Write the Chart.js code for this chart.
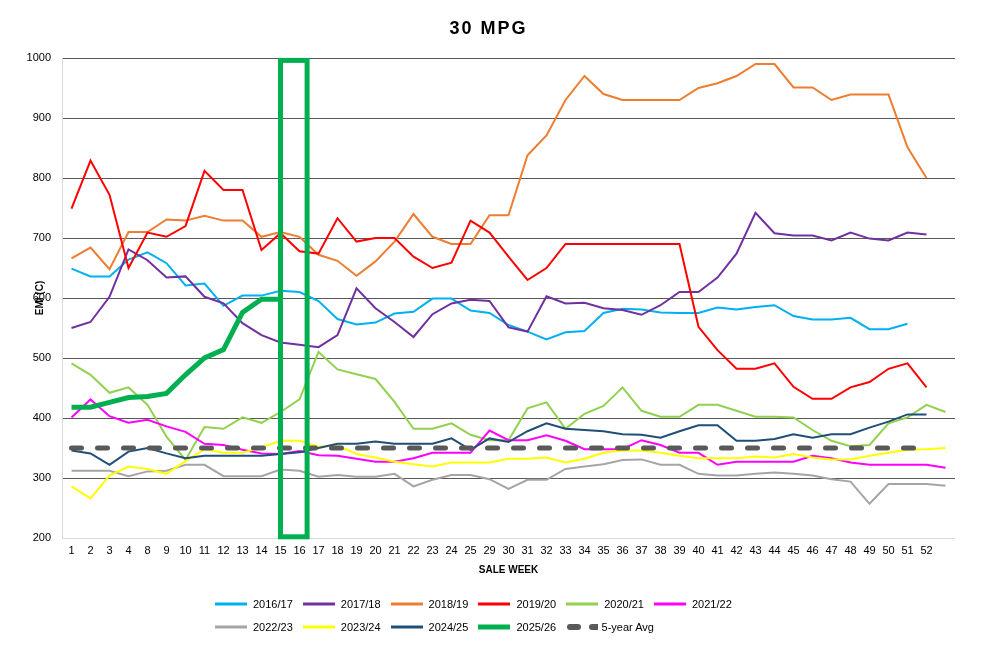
<!DOCTYPE html>
<html>
<head>
<meta charset="utf-8">
<title>30 MPG</title>
<script src="https://cdn.jsdelivr.net/npm/chart.js@4/dist/chart.umd.min.js"></script>
<style>
  body { margin: 0; background: #fff; font-family: "Liberation Sans", Arial, sans-serif; }
  #wrap { position: relative; width: 987px; height: 648px; }
  #title { position: absolute; left: 0; top: 18px; width: 977px; text-align: center;
           font-size: 18px; font-weight: bold; letter-spacing: 2px; color: #000; }
  #legend { position: absolute; left: 215px; top: 592px; display: grid;
            grid-template-columns: repeat(6, 87.8px); font-size: 11px; color: #000; }
  .item { display: flex; align-items: center; height: 23px; white-space: nowrap; }
  .item svg { margin-right: 4px; }
</style>
</head>
<body>
<div id="wrap">
  <canvas id="chart" width="987" height="648"></canvas>
  <div id="title">30 MPG</div>
  <div id="legend"></div>
</div>
<script>
// sale weeks (last slot is an unlabelled extra week)
var weeks = ['1','2','3','4','8','9','10','11','12','13','14','15','16','17','18','19','20','21','22','23','24','25',
  '29','30','31','32','33','34','35','36','37','38','39','40','41','42','43','44','45','46','47','48','49','50','51','52',''];

var s1617 = [649,636,636,664,676,658,621,624,587,604,604,612,610,595,565,556,559,574,577,599,599,579,
  575,555,544,531,543,545,575,582,581,576,575,575,584,581,585,588,570,564,564,567,548,548,557,null,null];
var s1718 = [550,560,602,681,663,634,636,602,591,558,538,526,522,518,538,616,583,560,535,573,591,597,
  595,551,544,603,591,592,583,580,572,588,610,610,634,674,742,708,704,704,696,709,699,696,709,706,null];
var s1819 = [666,684,648,710,710,731,729,737,729,729,702,710,702,672,662,637,661,694,740,702,690,690,
  738,738,838,871,930,970,940,930,930,930,930,950,958,970,990,990,951,951,930,939,939,939,851,800,null];
var s1920 = [749,829,772,650,709,702,720,812,780,780,680,708,678,674,733,694,700,700,669,650,659,729,
  709,669,630,650,690,690,690,690,690,690,690,552,513,482,482,491,452,432,432,451,460,482,491,451,null];
var s2021 = [491,472,442,451,422,369,330,385,382,401,392,410,431,510,481,473,465,427,382,382,391,372,
  363,363,416,426,382,407,420,451,412,402,402,422,422,412,402,402,401,380,362,353,355,391,401,422,410];
var s2122 = [401,431,403,392,397,386,377,357,355,347,341,340,345,338,337,332,327,327,333,342,342,342,
  379,363,363,371,362,348,348,348,363,355,342,342,322,327,327,327,327,337,333,326,322,322,322,322,317];
var s2223 = [312,312,312,303,311,312,322,322,303,303,303,314,312,302,305,302,302,307,286,297,305,305,
  298,282,297,297,315,319,323,330,331,322,322,307,304,304,307,309,307,304,298,294,257,290,290,290,287];
var s2324 = [286,266,304,319,315,307,328,348,342,342,351,362,362,352,354,340,334,327,323,319,326,326,
  326,332,332,334,326,332,342,346,346,342,337,333,333,333,336,334,340,334,331,331,337,342,347,348,350];
var s2425 = [346,341,322,344,350,341,333,337,337,337,337,340,343,350,357,357,361,357,357,357,366,347,
  366,360,378,391,382,380,378,373,372,367,378,388,388,362,362,365,373,367,373,373,384,394,406,406,null];
var s2526 = [418,418,426,434,436,441,472,500,514,576,598,598];
var avg5 = [350,350,350,350,350,350,350,350,350,350,350,350,350,350,350,350,350,350,350,350,350,350,
  350,350,350,350,350,350,350,350,350,350,350,350,350,350,350,350,350,350,350,350,350,350,350,350,null];

var seriesNames = ['2016/17','2017/18','2018/19','2019/20','2020/21','2021/22','2022/23','2023/24','2024/25','2025/26','5-year Avg'];
var seriesData = [s1617, s1718, s1819, s1920, s2021, s2122, s2223, s2324, s2425, s2526, avg5];
var seriesColors = ['#00B0F0','#7030A0','#ED7D31','#FF0000','#92D050','#FF00FF','#A5A5A5','#FFFF00','#1F4E79','#00B050','#595959'];

Chart.defaults.font.family = '"Liberation Sans", Arial, sans-serif';

var datasets = [];
for (var i = 0; i < seriesNames.length; i++) {
  var isAvg = seriesNames[i] == '5-year Avg';
  var isNow = seriesNames[i] == '2025/26';
  datasets.push({
    label: seriesNames[i],
    data: seriesData[i],
    borderColor: seriesColors[i],
    backgroundColor: seriesColors[i],
    borderWidth: (isAvg || isNow) ? 5 : 2,
    borderDash: isAvg ? [10, 16] : [],
    borderCapStyle: isAvg ? 'round' : 'butt',
    pointRadius: 0,
    tension: 0,
    fill: false,
    order: seriesNames.length - i   // later series on top, like Excel
  });
}

// green box around weeks 15/16
var highlightBox = {
  id: 'highlightBox',
  afterDatasetsDraw: function(chart) {
    var ctx = chart.ctx, x = chart.scales.x, y = chart.scales.y;
    var left = x.getPixelForValue(11), right = x.getPixelForValue(12.4);
    var top = y.getPixelForValue(996), bottom = y.getPixelForValue(202);
    ctx.save();
    ctx.strokeStyle = '#00B050';
    ctx.lineWidth = 5;
    ctx.strokeRect(left, top, right - left, bottom - top);
    ctx.restore();
  }
};

var chart = new Chart(document.getElementById('chart'), {
  type: 'line',
  data: { labels: weeks, datasets: datasets },
  options: {
    responsive: false,
    animation: false,
    layout: { padding: { left: 20, right: 32, top: 58, bottom: 70 } },
    plugins: {
      legend: { display: false },
      tooltip: { enabled: false },
      title: { display: false }
    },
    scales: {
      x: {
        offset: true,
        grid: { display: false, drawTicks: false },
        border: { display: false },
        ticks: { autoSkip: false, maxRotation: 0, padding: 6, color: '#000', font: { size: 11 } },
        title: { display: true, text: 'SALE WEEK', color: '#000',
                 font: { size: 10, weight: 'bold' }, padding: { top: 0, bottom: 2 } },
        afterFit: function(s) { s.height = 40; }
      },
      y: {
        min: 200, max: 1000,
        ticks: { stepSize: 100, padding: 11, color: '#000', font: { size: 11 },
                 callback: function(v) { return String(v); } },
        grid: { drawTicks: false,
                color: function(c) { return c.tick && c.tick.value == 200 ? '#d9d9d9' : '#595959'; } },
        border: { display: true, color: '#d9d9d9' },
        title: { display: true, text: 'EMI (C)', color: '#000',
                 font: { size: 10, weight: 'bold' }, padding: { top: 14, bottom: 0 } },
        afterFit: function(s) { s.width = 42; }
      }
    }
  },
  plugins: [highlightBox]
});

// legend laid out in a grid like the original
var legend = document.getElementById('legend');
datasets.forEach(function(d) {
  var item = document.createElement('div');
  item.className = 'item';
  var line;
  if (d.label == '5-year Avg') {
    line = '<line x1="4" y1="5" x2="32" y2="5" stroke="' + d.borderColor + '" stroke-width="6" stroke-linecap="round" stroke-dasharray="8 14"/>';
  } else {
    line = '<line x1="0" y1="5" x2="32" y2="5" stroke="' + d.borderColor + '" stroke-width="' + (d.borderWidth > 2 ? 5 : 3) + '"/>';
  }
  item.innerHTML = '<svg width="34" height="10">' + line + '</svg><span>' + d.label + '</span>';
  legend.appendChild(item);
});
</script>
</body>
</html>
